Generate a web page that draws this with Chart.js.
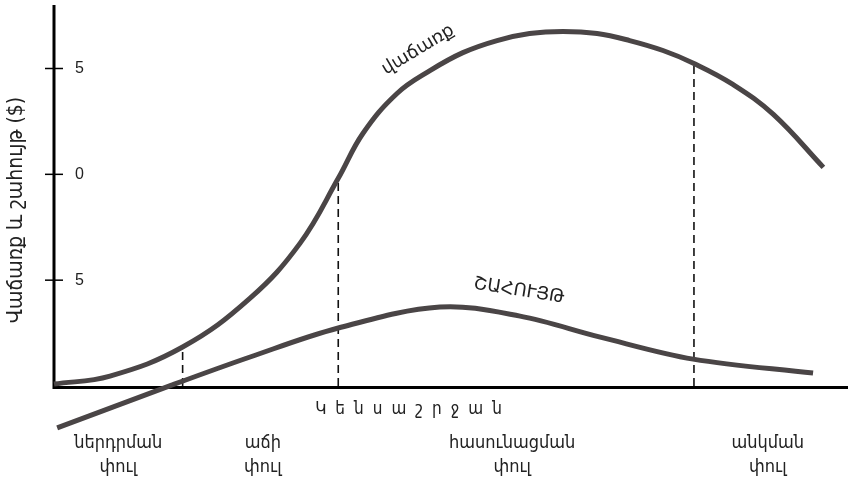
<!DOCTYPE html>
<html>
<head>
<meta charset="utf-8">
<script src="https://cdn.jsdelivr.net/npm/chart.js@4/dist/chart.umd.min.js"></script>
<style>
  html, body { margin: 0; padding: 0; background: #fff; }
  #wrap { width: 848px; height: 483px; }
</style>
</head>
<body>
<div id="wrap"><canvas id="lifeChart" width="848" height="483"></canvas></div>
<script>
// values (x = time, y = $)
const salesX  = [0, 7.05, 16.2, 24.7, 31.0, 35.8, 38.9, 43.2, 47.4, 51.5, 55.8, 59.9, 64.1, 68.4, 72.5, 76.7, 80.6, 85.5, 90.6, 96.9];
const salesY  = [0.09, 0.47, 1.84, 4.15, 6.75, 9.81, 11.93, 13.82, 14.91, 15.75, 16.32, 16.65, 16.75, 16.65, 16.32, 15.85, 15.24, 14.25, 12.83, 10.33];
const profitX = [0.4, 14.9, 24.7, 35.8, 48.6, 58.7, 68.8, 80.5, 95.6];
const profitY = [-1.98, 0.05, 1.37, 2.74, 3.73, 3.3, 2.31, 1.27, 0.61];

// phase boundaries and the sales height where each dashed line stops
const phaseX = [16.2, 35.8, 80.6];
const phaseTop = [1.84, 9.81, 15.24];

const tickValues = [5, 10, 15];
const tickLabels = ['5', '0', '5'];

const phaseNames = [['ներդրման', 'փուլ'], ['աճի', 'փուլ'], ['հասունացման', 'փուլ'], ['անկման', 'փուլ']];
const phaseLabelX = [8.1, 26.3, 57.7, 89.9];

const toPts = (xs, ys) => xs.map((x, i) => ({ x: x, y: ys[i] }));

const lineColor = '#4a4546';
const font = '"DejaVu Sans", sans-serif';
const narrow = '"DejaVu Sans Condensed", "DejaVu Sans", sans-serif';

const datasets = [
  { data: toPts(salesX, salesY), borderColor: lineColor, borderWidth: 5, tension: 0.4 },
  { data: toPts(profitX, profitY), borderColor: lineColor, borderWidth: 5, tension: 0.35 }
];
phaseX.forEach((x, i) => {
  datasets.push({
    data: [{ x: x, y: 0 }, { x: x, y: phaseTop[i] }],
    borderColor: '#111', borderWidth: 1.6, borderDash: [8, 5], tension: 0
  });
});

// axes, ticks and texts
const decor = {
  id: 'decor',
  beforeDatasetsDraw(chart) {
    const { ctx, scales: { x, y } } = chart;
    const x0 = x.getPixelForValue(0);
    const y0 = y.getPixelForValue(0);
    ctx.save();
    ctx.strokeStyle = '#000';
    ctx.lineWidth = 3;
    ctx.beginPath();
    ctx.moveTo(x0, y.top);
    ctx.lineTo(x0, y0 + 1.5);
    ctx.lineTo(x.right, y0 + 1.5);
    ctx.stroke();
    ctx.lineWidth = 1.5;
    ctx.font = '16px "Liberation Sans", sans-serif';
    ctx.fillStyle = '#222';
    ctx.textAlign = 'left';
    ctx.textBaseline = 'middle';
    tickValues.forEach((v, i) => {
      const py = y.getPixelForValue(v);
      ctx.beginPath();
      ctx.moveTo(x0 - 9, py);
      ctx.lineTo(x0 + 9, py);
      ctx.stroke();
      ctx.fillText(tickLabels[i], x0 + 21, py);
    });
    ctx.restore();
  },
  afterDraw(chart) {
    const { ctx, scales: { x } } = chart;
    ctx.save();
    ctx.fillStyle = '#222';
    ctx.textAlign = 'center';
    ctx.textBaseline = 'middle';

    // y title
    ctx.save();
    ctx.translate(17, 210);
    ctx.rotate(-Math.PI / 2);
    ctx.font = '21px ' + narrow;
    ctx.fillText('Վաճառք և շահույթ ($)', 0, 0);
    ctx.restore();

    // x title
    ctx.font = '17px ' + narrow;
    ctx.letterSpacing = '9px';
    ctx.fillText('Կենսաշրջան', 413, 410);
    ctx.letterSpacing = '0px';

    // phase names
    ctx.font = '18px ' + narrow;
    phaseNames.forEach((lines, i) => {
      const px = x.getPixelForValue(phaseLabelX[i]);
      lines.forEach((t, j) => ctx.fillText(t, px, 443 + j * 24));
    });

    // curve labels
    ctx.font = '18px ' + font;
    ctx.save();
    ctx.translate(418, 50);
    ctx.rotate(-31 * Math.PI / 180);
    ctx.fillText('վաճառք', 0, 0);
    ctx.restore();
    ctx.save();
    ctx.translate(519, 291);
    ctx.rotate(9 * Math.PI / 180);
    ctx.fillText('ՇԱՀՈՒՅԹ', 0, 0);
    ctx.restore();
    ctx.restore();
  }
};

new Chart(document.getElementById('lifeChart'), {
  type: 'line',
  data: { datasets: datasets },
  options: {
    responsive: false,
    animation: false,
    clip: false,
    layout: { padding: { left: 54, top: 5, right: 0, bottom: 97 } },
    elements: { point: { radius: 0 }, line: { fill: false, borderCapStyle: 'butt' } },
    plugins: { legend: { display: false }, tooltip: { enabled: false } },
    scales: {
      x: { type: 'linear', min: 0, max: 100, display: false },
      y: { type: 'linear', min: 0, max: 18, display: false }
    }
  },
  plugins: [decor]
});
</script>
</body>
</html>
